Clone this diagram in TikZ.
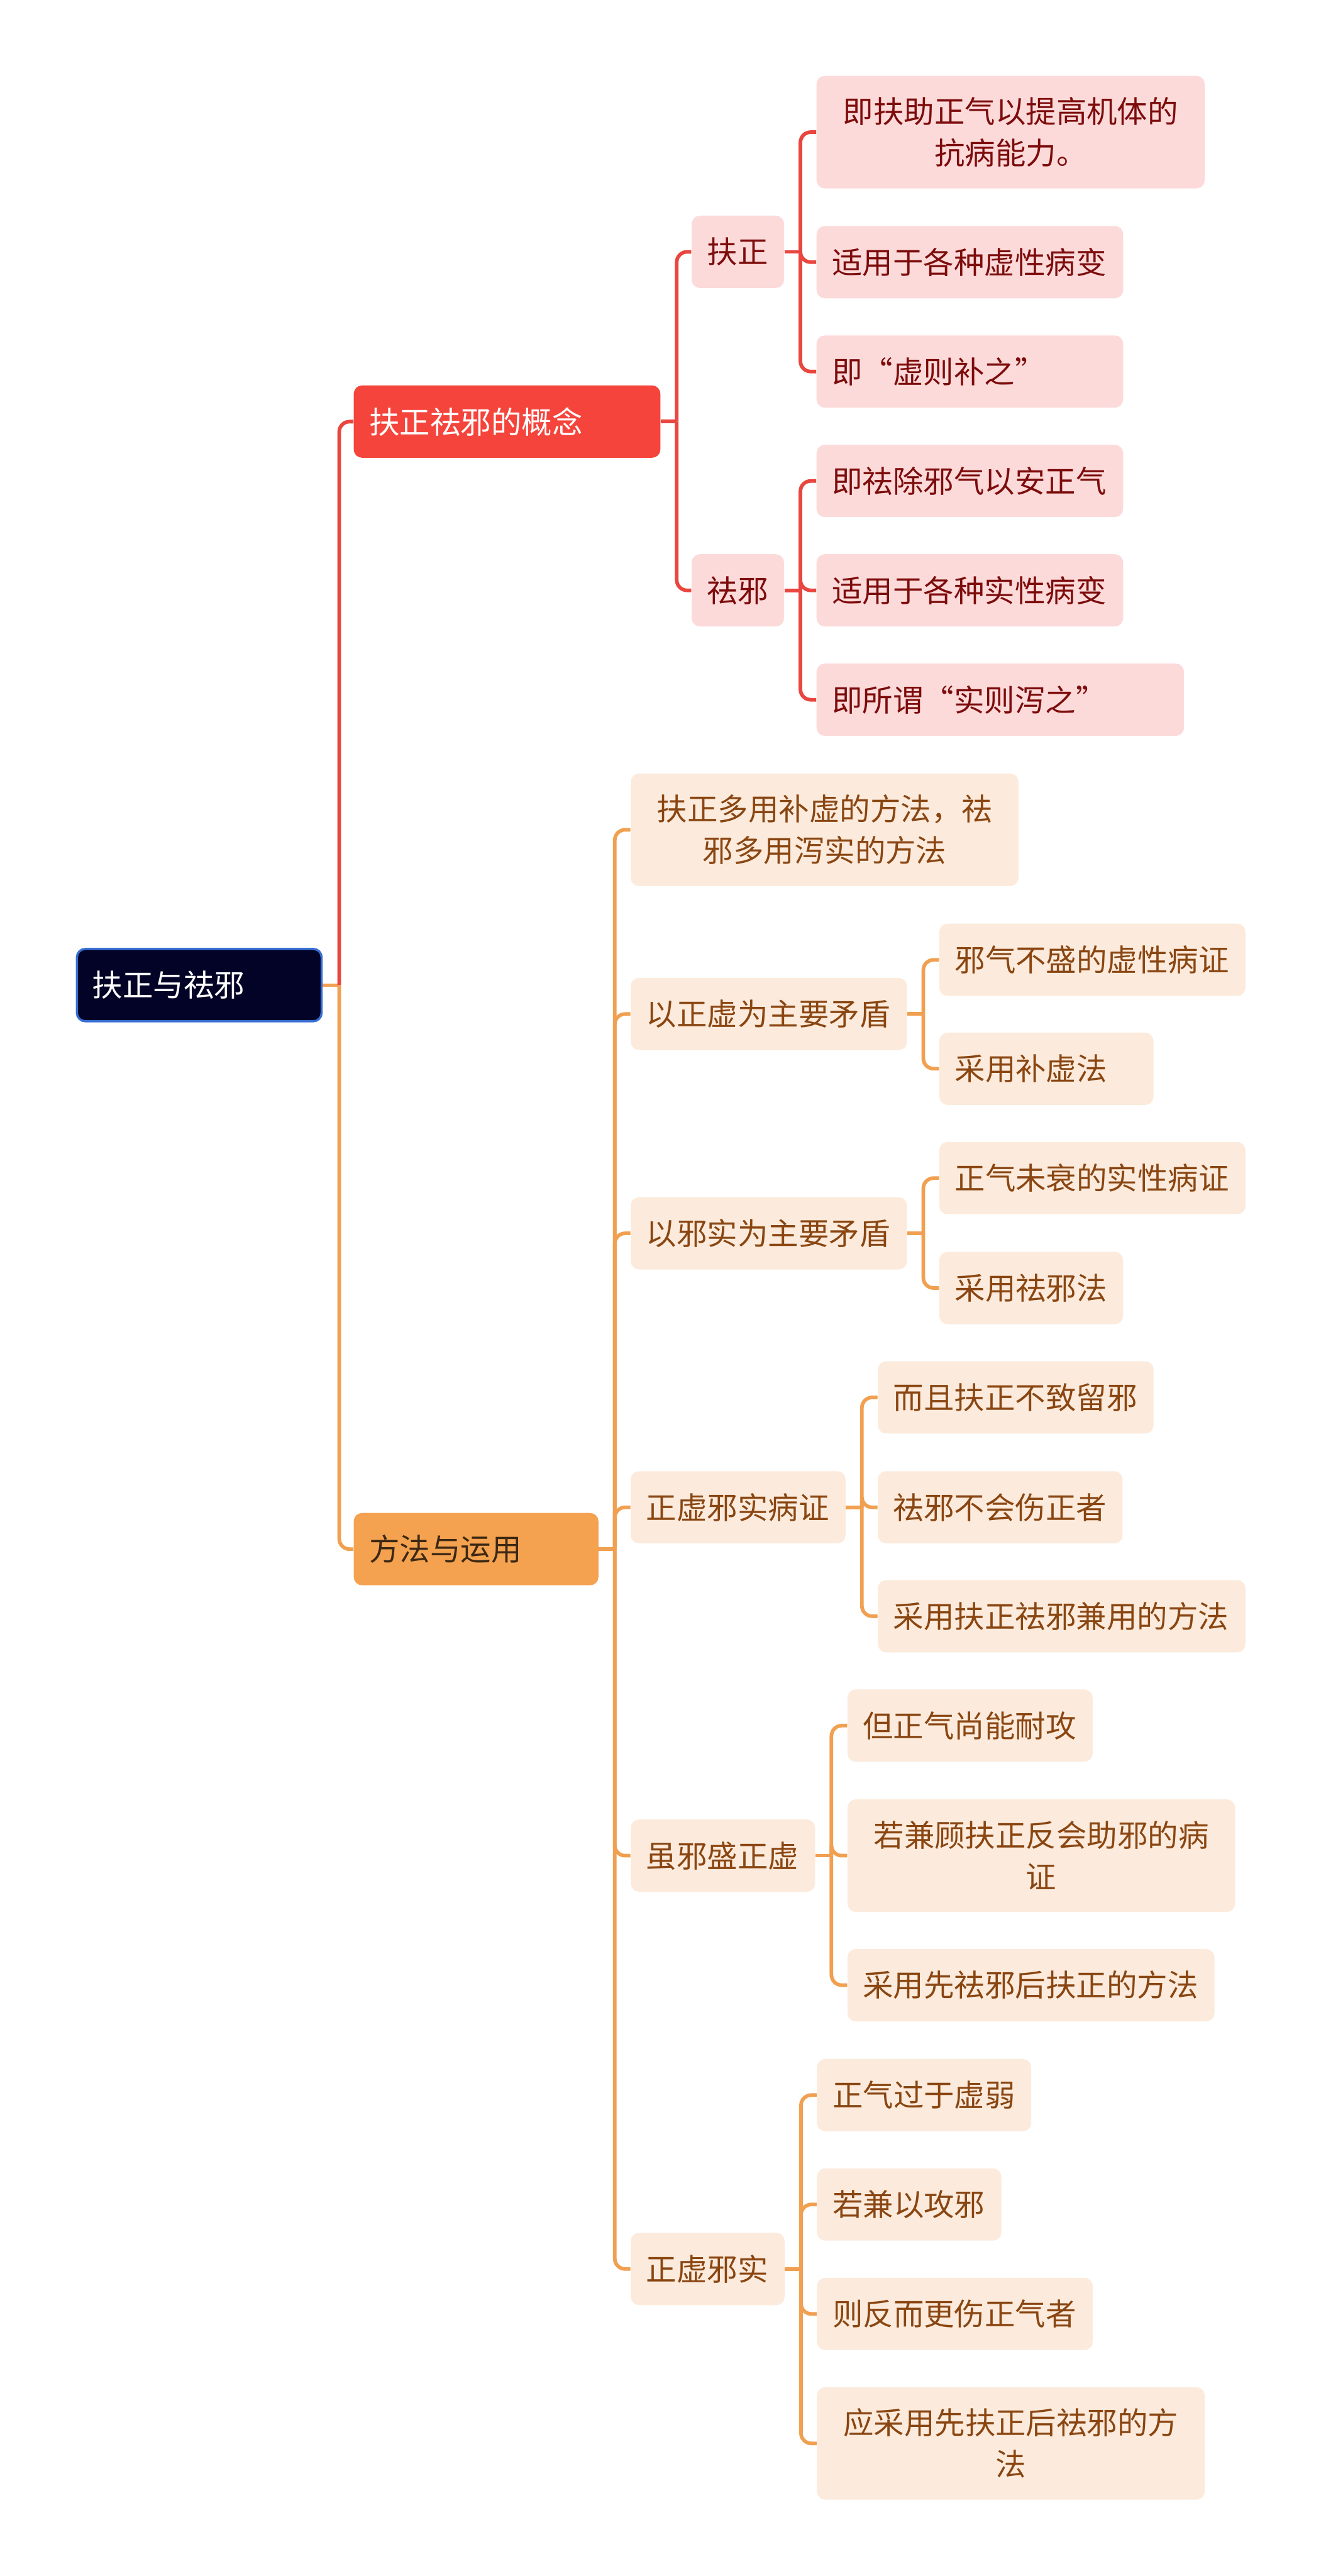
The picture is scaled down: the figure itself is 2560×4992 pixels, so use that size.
\documentclass[tikz,border=0pt]{standalone}
\usepackage{fontspec}
\setmainfont{Noto Sans CJK SC}
\definecolor{rootfill}{RGB}{2,3,38}
\definecolor{rootedge}{RGB}{55,110,210}
\definecolor{redmain}{RGB}{245,68,59}
\definecolor{redln}{RGB}{232,70,62}
\definecolor{redlight}{RGB}{253,218,218}
\definecolor{redtext}{RGB}{125,12,12}
\definecolor{orgmain}{RGB}{244,162,79}
\definecolor{orgln}{RGB}{240,160,80}
\definecolor{orglight}{RGB}{252,235,220}
\definecolor{orgtext}{RGB}{138,70,18}
\definecolor{orgdark}{RGB}{60,40,20}

\tikzset{
  box/.style={rounded corners=0.16cm, anchor=west, inner xsep=0.3cm, inner ysep=0pt,
    minimum height=1.40cm, align=left, font=\fontsize{16.8pt}{22.8pt}\selectfont},
  tall/.style={minimum height=2.18cm, align=center},
  rootbox/.style={box, fill=rootfill, draw=rootedge, line width=1.2pt, text=white},
  redtop/.style={box, fill=redmain, text=white},
  orgtop/.style={box, fill=orgmain, text=orgdark},
  redleaf/.style={box, fill=redlight, text=redtext},
  orgleaf/.style={box, fill=orglight, text=orgtext},
  redlink/.style={draw=redln, line width=2pt, rounded corners=0.2cm},
  orglink/.style={draw=orgln, line width=2pt, rounded corners=0.2cm}
}

\begin{document}
\begin{tikzpicture}[x=0.01cm,y=-0.01cm]
\fill[white] (0,0) rectangle (2560,4992);
\useasboundingbox (0,0) rectangle (2560,4992);

% root
\node[rootbox, text width=4.14cm] (root) at (147,1909) {扶正与祛邪};

% upper branch: concept
\node[redtop, text width=5.34cm] (gainian) at (685,817) {扶正祛邪的概念};
\node[redleaf, text width=1.19cm] (fuzheng) at (1340,488) {扶正};
\node[redleaf, text width=1.19cm] (quxie) at (1340,1144) {祛邪};
\node[redleaf, tall, text width=6.92cm] (fz1) at (1582,256) {即扶助正气以提高机体的\\抗病能力。};
\node[redleaf, text width=5.34cm] (fz2) at (1582,508) {适用于各种虚性病变};
\node[redleaf, text width=5.34cm] (fz3) at (1582,720) {即“虚则补之”};
\node[redleaf, text width=5.34cm] (qx1) at (1582,932) {即祛除邪气以安正气};
\node[redleaf, text width=5.34cm] (qx2) at (1582,1144) {适用于各种实性病变};
\node[redleaf, text width=6.52cm] (qx3) at (1582,1356) {即所谓“实则泻之”};

% lower branch: methods
\node[orgtop, text width=4.14cm] (fangfa) at (685,3002) {方法与运用};
\node[orgleaf, tall, text width=6.91cm] (ff1) at (1222,1608) {扶正多用补虚的方法，祛\\邪多用泻实的方法};
\node[orgleaf, text width=4.75cm] (ff2) at (1222,1965) {以正虚为主要矛盾};
\node[orgleaf, text width=5.33cm] (ff2a) at (1820,1860) {邪气不盛的虚性病证};
\node[orgleaf, text width=3.55cm] (ff2b) at (1820,2071) {采用补虚法};
\node[orgleaf, text width=4.75cm] (ff3) at (1222,2390) {以邪实为主要矛盾};
\node[orgleaf, text width=5.33cm] (ff3a) at (1820,2283) {正气未衰的实性病证};
\node[orgleaf, text width=2.96cm] (ff3b) at (1820,2496) {采用祛邪法};
\node[orgleaf, text width=3.56cm] (ff4) at (1222,2921) {正虚邪实病证};
\node[orgleaf, text width=4.74cm] (ff4a) at (1701,2708) {而且扶正不致留邪};
\node[orgleaf, text width=4.14cm] (ff4b) at (1701,2921) {祛邪不会伤正者};
\node[orgleaf, text width=6.52cm] (ff4c) at (1701,3132) {采用扶正祛邪兼用的方法};
\node[orgleaf, text width=2.97cm] (ff5) at (1222,3596) {虽邪盛正虚};
\node[orgleaf, text width=4.15cm] (ff5a) at (1642,3344) {但正气尚能耐攻};
\node[orgleaf, tall, text width=6.91cm] (ff5b) at (1642,3596) {若兼顾扶正反会助邪的病\\证};
\node[orgleaf, text width=6.51cm] (ff5c) at (1642,3847) {采用先祛邪后扶正的方法};
\node[orgleaf, text width=2.38cm] (ff6) at (1222,4397) {正虚邪实};
\node[orgleaf, text width=3.55cm] (ff6a) at (1583,4060) {正气过于虚弱};
\node[orgleaf, text width=2.97cm] (ff6b) at (1583,4272) {若兼以攻邪};
\node[orgleaf, text width=4.74cm] (ff6c) at (1583,4484) {则反而更伤正气者};
\node[orgleaf, tall, text width=6.91cm] (ff6d) at (1583,4735) {应采用先扶正后祛邪的方\\法};

% connectors
\draw[orglink] (root.east) -- ++(32,0);
\draw[redlink] (root.east) ++(32,0) |- (gainian.west);
\draw[orglink] (root.east) ++(32,0) |- (fangfa.west);

\draw[redlink] (gainian.east) -- ++(31,0);
\foreach \c in {fuzheng,quxie}
  \draw[redlink] (gainian.east) ++(31,0) |- (\c.west);
\draw[redlink] (fuzheng.east) -- ++(31,0);
\foreach \c in {fz1,fz2,fz3}
  \draw[redlink] (fuzheng.east) ++(31,0) |- (\c.west);
\draw[redlink] (quxie.east) -- ++(31,0);
\foreach \c in {qx1,qx2,qx3}
  \draw[redlink] (quxie.east) ++(31,0) |- (\c.west);

\draw[orglink] (fangfa.east) -- ++(31,0);
\foreach \c in {ff1,ff2,ff3,ff4,ff5,ff6}
  \draw[orglink] (fangfa.east) ++(31,0) |- (\c.west);
\foreach \p/\kids in {ff2/{ff2a,ff2b},ff3/{ff3a,ff3b},ff4/{ff4a,ff4b,ff4c},
    ff5/{ff5a,ff5b,ff5c},ff6/{ff6a,ff6b,ff6c,ff6d}}{
  \draw[orglink] (\p.east) -- ++(31,0);
  \foreach \c in \kids
    \draw[orglink] (\p.east) ++(31,0) |- (\c.west);
}
\end{tikzpicture}
\end{document}
